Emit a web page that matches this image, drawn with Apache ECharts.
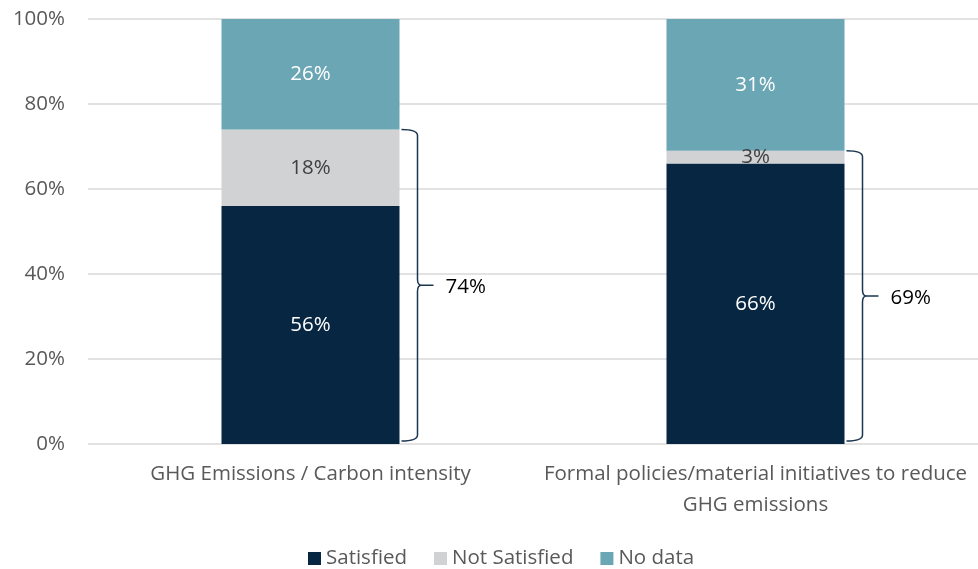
<!DOCTYPE html>
<html>
<head>
<meta charset="utf-8">
<style>
  html, body { margin: 0; padding: 0; background: #ffffff; }
  #chart { width: 978px; height: 569px; }
</style>
<script src="https://cdn.jsdelivr.net/npm/echarts@6/dist/echarts.min.js"></script>
</head>
<body>
<div id="chart"></div>
<script>
// Survey categories and the share of each outcome (percent)
const categories = [
  'GHG Emissions / Carbon intensity',
  'Formal policies/material initiatives to reduce\nGHG emissions'
];
const satisfied = [56, 66];
const notSatisfied = [18, 3];
const noData = [26, 31];
// Combined share bracketed beside each bar (satisfied + not satisfied)
const bracketTotals = [74, 69];
const yTicks = [0, 20, 40, 60, 80, 100];

const FONT = '"Open Sans"';
const FS = 20.5;
const colors = { satisfied: '#062641', notSatisfied: '#D1D2D4', noData: '#6AA6B3' };

const chart = echarts.init(document.getElementById('chart'), null, { renderer: 'canvas' });

function barSeries(name, data, color, labelColor) {
  return {
    name: name,
    type: 'bar',
    stack: 'total',
    barWidth: '40%',
    data: data,
    itemStyle: { color: color },
    label: {
      show: true,
      position: 'inside',
      formatter: p => p.value + '%',
      color: labelColor,
      fontFamily: FONT,
      fontSize: FS
    },
    emphasis: { disabled: true }
  };
}

const bracketData = bracketTotals.map((v, i) => [i, v]);

const option = {
  animation: false,
  grid: { left: 88, right: 0, top: 19, bottom: 125 },
  legend: {
    top: 548,
    left: 308,
    padding: 0,
    itemWidth: 13,
    itemHeight: 13,
    itemGap: 27,
    icon: 'rect',
    textStyle: { color: '#595959', fontFamily: FONT, fontSize: FS },
    data: ['Satisfied', 'Not Satisfied', 'No data']
  },
  xAxis: {
    type: 'category',
    data: categories,
    axisLine: { show: false },
    axisTick: { show: false },
    axisLabel: {
      color: '#595959',
      fontFamily: FONT,
      fontSize: FS,
      lineHeight: 31,
      margin: 15,
      interval: 0
    }
  },
  yAxis: {
    type: 'value',
    min: yTicks[0],
    max: yTicks[yTicks.length - 1],
    interval: yTicks[1] - yTicks[0],
    axisLine: { show: false },
    axisTick: { show: false },
    splitLine: { lineStyle: { color: '#D9D9D9', width: 1.5 } },
    axisLabel: {
      color: '#595959',
      fontFamily: FONT,
      fontSize: FS,
      margin: 23,
      formatter: v => v + '%'
    }
  },
  series: [
    barSeries('Satisfied', satisfied, colors.satisfied, '#ffffff'),
    barSeries('Not Satisfied', notSatisfied, colors.notSatisfied, '#404040'),
    barSeries('No data', noData, colors.noData, '#ffffff'),
    {
      // Curly brace spanning satisfied + not satisfied, with its total
      type: 'custom',
      data: bracketData,
      encode: { x: 0, y: 1 },
      silent: true,
      z: 5,
      renderItem: function (params, api) {
        const idx = api.value(0);
        const val = api.value(1);
        const base = api.coord([idx, 0]);
        const topPt = api.coord([idx, val]);
        const halfBar = api.size([1, 0])[0] * 0.4 / 2;
        const x0 = base[0] + halfBar + 2;
        const top = topPt[1];
        const bottom = base[1] - 3;
        const mid = (top + bottom) / 2;
        const xv = x0 + 16;
        const xt = xv + 16;
        const r = 6;
        const path =
          'M' + x0 + ' ' + top +
          ' Q' + xv + ' ' + top + ' ' + xv + ' ' + (top + r) +
          ' L' + xv + ' ' + (mid - r) +
          ' Q' + xv + ' ' + mid + ' ' + (xv + 4) + ' ' + mid +
          ' L' + xt + ' ' + mid +
          ' M' + (xv + 4) + ' ' + mid +
          ' Q' + xv + ' ' + mid + ' ' + xv + ' ' + (mid + r) +
          ' L' + xv + ' ' + (bottom - r) +
          ' Q' + xv + ' ' + bottom + ' ' + x0 + ' ' + bottom;
        return {
          type: 'group',
          children: [
            {
              type: 'path',
              shape: { pathData: path },
              style: { fill: 'none', stroke: '#1C3550', lineWidth: 1.5 }
            },
            {
              type: 'text',
              style: {
                x: xt + 12,
                y: mid + 2,
                text: val + '%',
                fill: '#000000',
                font: FS + 'px ' + FONT,
                verticalAlign: 'middle',
                align: 'left'
              }
            }
          ]
        };
      }
    }
  ]
};

chart.setOption(option);
</script>
</body>
</html>
